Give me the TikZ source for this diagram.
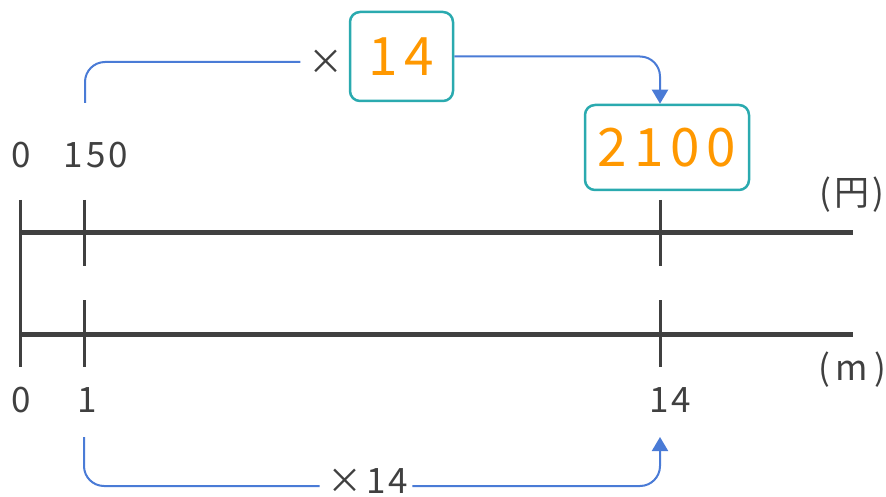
\documentclass[tikz,border=0pt]{standalone}
\usepackage{fontspec}
\setmainfont{Noto Sans CJK JP}
\usetikzlibrary{arrows.meta}
\definecolor{numline}{RGB}{64,64,64}
\definecolor{arrowblue}{RGB}{74,123,214}
\definecolor{boxteal}{RGB}{42,170,175}
\definecolor{numorange}{RGB}{255,152,0}
\begin{document}
\begin{tikzpicture}[x=1pt,y=-1pt,every node/.style={font=\fontsize{35}{40}\selectfont\addfontfeatures{LetterSpace=9},text=numline,inner sep=0pt},
  ansbox/.style={draw=boxteal,line width=2.5pt,rounded corners=10pt,text=numorange,font=\fontsize{53}{60}\selectfont\addfontfeatures{LetterSpace=13}},
  conn/.style={arrowblue,line width=2pt,rounded corners=20pt},
  axisline/.style={numline,line width=5pt},
  tickline/.style={numline,line width=3pt}]
\useasboundingbox (0,0) rectangle (886,497);
% two number lines
\draw[axisline] (20,233)--(853,233);
\draw[axisline] (20,334)--(853,334);
\draw[tickline] (20,200)--(20,367);
\foreach \x in {84,660} {\draw[tickline] (\x,200)--(\x,266); \draw[tickline] (\x,300)--(\x,367);}
% labels
\foreach \x/\t/\nm in {21/0/yen0,96/150/yen150} {\node (\nm) at (\x,155) {\t};}
\foreach \x/\t/\nm in {21/0/m0,87/1/m1,670/14/m14} {\node (\nm) at (\x,400) {\t};}
\node (uyen) at (852,195) {(円)};
\node (um) at (852,370) {(\,m\,)};
\node[ansbox,minimum width=164pt,minimum height=85pt] (ans) at (667,147.5) {2100};
% times 14 above
\node[ansbox,minimum width=103pt,minimum height=89pt] (mul) at (401.5,56.5) {14};
\node (times) at (326,62) {×};
\coordinate (up150) at (85,103);
\draw[conn] (up150) |- ([xshift=-8pt]times.west);
\draw[conn,-{Triangle[width=16pt,length=14pt]}] (mul.east) -| (ans.north -| 660,0);
% times 14 below
\node (timesb) at (368,481) {×14};
\coordinate (lo1) at (84,437);
\coordinate (lo14) at (660,437);
\draw[conn] (lo1) |- ([xshift=-8pt]timesb.west |- 0,486);
\draw[conn,-{Triangle[width=16pt,length=14pt]}] ([xshift=4pt]timesb.east |- 0,486) -| (lo14);
\end{tikzpicture}
\end{document}
